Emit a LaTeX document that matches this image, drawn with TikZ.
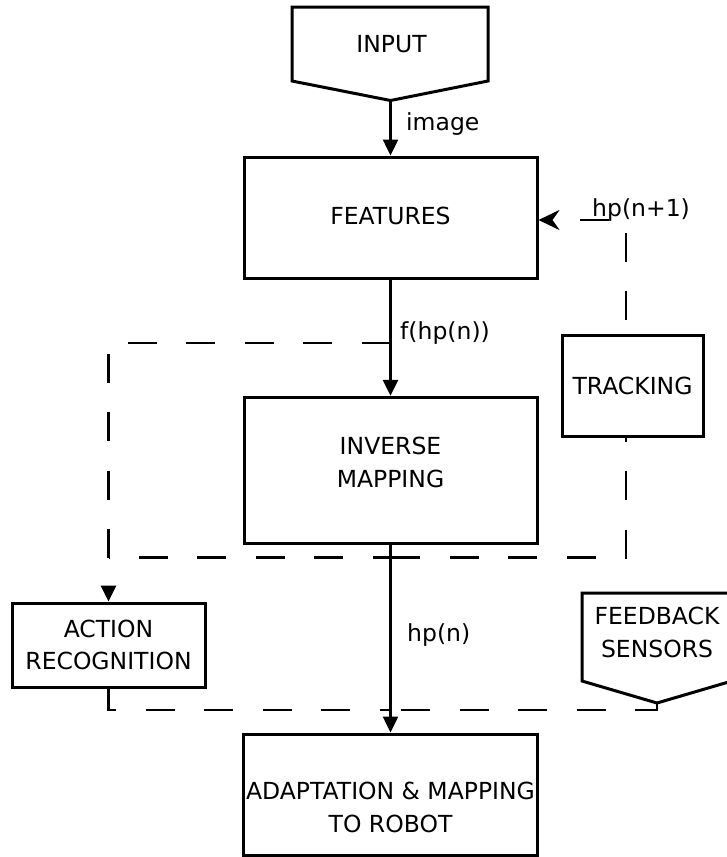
\documentclass[tikz,border=0pt]{standalone}
\usepackage{fontspec}
\setmainfont{DejaVu Sans}
\usetikzlibrary{arrows.meta}
\begin{document}
\begin{tikzpicture}[x=1pt,y=-1pt,
  every node/.style={font=\fontsize{23.5}{32.5}\selectfont, inner sep=0pt},
  box/.style={draw, line width=3pt, align=center},
  shapeline/.style={line width=3pt},
  arr/.style={line width=2.5pt, -{Triangle[length=16pt,width=15pt]}},
  dline/.style={line width=2.8pt, dash pattern=on 29pt off 29.5pt},
  lbl/.style={anchor=base west},
]
\useasboundingbox (0,0) rectangle (727,857);

% boxes
\node[box, minimum width=293pt, minimum height=121pt, text height=13pt, text depth=0pt] (features) at (390.5,217.5) {FEATURES};
\node[box, minimum width=293pt, minimum height=146pt, text height=33.4pt, text depth=0pt] (inverse) at (390.5,470.3) {INVERSE\\MAPPING};
\node[box, minimum width=141pt, minimum height=101pt] (tracking) at (632.5,385.5) {TRACKING};
\node[box, minimum width=193pt, minimum height=84pt] (action) at (108.5,645) {ACTION\\RECOGNITION};
\node[box, minimum width=294pt, minimum height=121pt, text height=75pt, text depth=0pt] (adapt) at (390.5,794.5) {ADAPTATION \& MAPPING\\TO ROBOT};

% pentagon shapes
\coordinate (inputtip) at (390.5,100.5);
\draw[shapeline] (292,7) -- (488,7) -- (488,81) -- (inputtip) -- (292,81) -- cycle;
\node (input) at (391.5,44) {INPUT};
\coordinate (feedtip) at (657,703);
\draw[shapeline] (582,593) -- (732,593) -- (732,681) -- (feedtip) -- (582,681) -- cycle;
\node[align=center] (feedback) at (657,632.5) {FEEDBACK\\SENSORS};

% labels
\node[lbl] (image) at (406,130) {image};
\node[lbl] (fhpn) at (400,339) {f(hp(n))};
\node[lbl] (hpn) at (407,641) {hp(n)};
\node[lbl] (hpn1) at (592,216) {hp(n+1)};

% solid connectors
\draw[arr] (inputtip) -- (features.north);
\draw[arr] (features.south) -- (inverse.north);
\draw[arr] (inverse.south) -- (adapt.north);

% dashed connectors
\coordinate (fsplit) at (390.5,343);
\coordinate (hsplit) at (390.5,557.5);
\coordinate (bsplit) at (390.5,710);
\draw[dline, -{Triangle[length=16pt,width=15pt]}] (fsplit) -| (action.north);
\draw[dline, dash phase=11pt] (hsplit) -- (action.north |- hsplit);
\draw[dline, dash phase=25pt] (tracking.south -| 626,0) |- (hsplit);
\draw[dline, dash phase=45pt, -{Stealth[length=21pt,width=20pt,inset=7pt]}] (tracking.north -| 626,0) |- (features.east |- 0,220);
\draw[dline] (action.south) |- (bsplit);
\draw[dline] (feedtip) |- (bsplit);
\end{tikzpicture}
\end{document}
